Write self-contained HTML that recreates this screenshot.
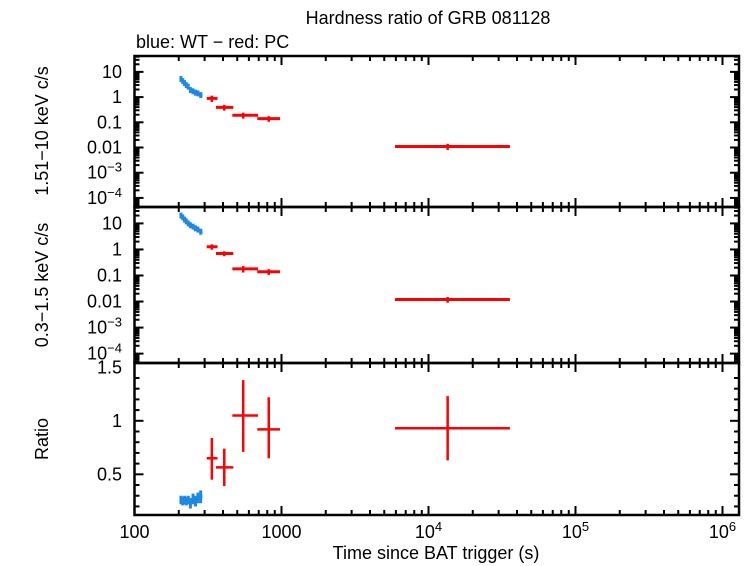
<!DOCTYPE html>
<html><head><meta charset="utf-8">
<style>
body{margin:0;background:#fff;}
svg{display:block;font-family:"Liberation Sans",sans-serif;}
</style></head>
<body>
<svg id="chart" width="753" height="566" viewBox="0 0 753 566" xmlns="http://www.w3.org/2000/svg">
<text x="428" y="24" font-size="18" text-anchor="middle">Hardness ratio of GRB 081128</text>
<text x="136" y="48" font-size="18">blue: WT − red: PC</text>
<text transform="translate(48,131) rotate(-90)" font-size="18" text-anchor="middle">1.51−10 keV c/s</text>
<text transform="translate(48,285) rotate(-90)" font-size="18" text-anchor="middle">0.3−1.5 keV c/s</text>
<text transform="translate(48,439) rotate(-90)" font-size="18" text-anchor="middle">Ratio</text>
<text x="436" y="559" font-size="18" text-anchor="middle">Time since BAT trigger (s)</text>
<g id="g"></g>
</svg>
<script>
// WT (blue) data
const wtTime=[207,213,219,225,232,240,250,260,270,282];
const wtTimeLo=[204,210,216,222,228,236,245,255,265,276];
const wtTimeHi=[210,216,222,228,236,245,255,265,276,290];
const wtHard=[5.2,4.3,3.6,3.0,2.6,1.9,1.7,1.5,1.4,1.2];
const wtSoft=[20,17,14,12,10,8.5,7.5,6.5,5.8,4.8];
const wtRatio=[0.26,0.25,0.26,0.25,0.26,0.23,0.27,0.25,0.28,0.29];
const wtRatioErr=[0.04,0.04,0.04,0.04,0.04,0.05,0.05,0.05,0.05,0.06];
// PC (red) data
const pcTime=[336,408,549,819,13500];
const pcTimeLo=[310,358,463,684,5920];
const pcTimeHi=[367,470,692,977,35800];
const pcHard=[0.89,0.39,0.19,0.14,0.011];
const pcHardErr=[0.25,0.1,0.05,0.035,0.003];
const pcSoft=[1.27,0.70,0.18,0.14,0.012];
const pcSoftErr=[0.3,0.15,0.05,0.035,0.003];
const pcRatio=[0.65,0.565,1.05,0.92,0.93];
const pcRatioLo=[0.45,0.39,0.71,0.65,0.63];
const pcRatioHi=[0.84,0.74,1.38,1.22,1.23];
const xTickLabels=["100","1000","10|4","10|5","10|6"];
const yLogTickLabels=["10","1","0.1","0.01","10|−3","10|−4"];
const ratioTicks=[0.5,1,1.5];

const NS="http://www.w3.org/2000/svg";
const g=document.getElementById('g');
const X0=134.5,X1=739,DEC=147;
function xs(t){return X0+(Math.log10(t)-2)*DEC;}
const panels=[{top:56,bot:207},{top:207,bot:363},{top:363,bot:515}];
const LOGTOP=1.63,LOGBOT=-4.36;
function ylog(p,v){const P=panels[p];return P.top+(LOGTOP-Math.log10(v))/(LOGTOP-LOGBOT)*(P.bot-P.top);}
const RTOP=1.54,RBOT=0.12;
function yr(v){const P=panels[2];return P.top+(RTOP-v)/(RTOP-RBOT)*(P.bot-P.top);}
function el(tag,attrs,parent){const e=document.createElementNS(NS,tag);for(const k in attrs)e.setAttribute(k,attrs[k]);(parent||g).appendChild(e);return e;}
function line(x1,y1,x2,y2,col,w,name){const e=el('line',{x1,y1,x2,y2,stroke:col,'stroke-width':w});


return e;}
function supText(x,y,lab,anchor,name){
  const parts=lab.split('|');
  const t=el('text',{x,y,'font-size':18,'text-anchor':anchor});
  
  
  t.appendChild(document.createTextNode(parts[0]));
  if(parts[1]){const s=el('tspan',{'font-size':13,dy:-7},t);s.textContent=parts[1];}
}
panels.forEach((P,i)=>{
  const r=el('rect',{x:X0,y:P.top,width:X1-X0,height:P.bot-P.top,fill:'none',stroke:'#000','stroke-width':2.5});
  
  
  for(let d=2;d<=6;d++){
    for(let m=1;m<10;m++){
      const t=Math.pow(10,d)*m;const x=xs(t);if(x>X1)break;
      const L=m===1?9:5;
      line(x,P.bot,x,P.bot-L,'#000',2,'x-tick');
      line(x,P.top,x,P.top+L,'#000',2,'x-tick');
    }
  }
  if(i<2){
    for(let d=-5;d<=2;d++){for(let m=1;m<10;m++){
      const v=Math.pow(10,d)*m;const lv=Math.log10(v);if(lv>LOGTOP||lv<LOGBOT)continue;
      const y=ylog(i,v);const L=m===1?9:5;
      line(X0,y,X0+L,y,'#000',2,'y-tick');line(X1,y,X1-L,y,'#000',2,'y-tick');
    }}
    yLogTickLabels.forEach((lab,k)=>{supText(122,ylog(i,Math.pow(10,1-k))+6,lab,'end','y-tick-label');});
  } else {
    for(let v=0.2;v<=1.5;v+=0.1){const y=yr(v);const major=Math.abs(v*2-Math.round(v*2))<1e-6;const L=major?9:5;
      line(X0,y,X0+L,y,'#000',2,'y-tick');line(X1,y,X1-L,y,'#000',2,'y-tick');}
    ratioTicks.forEach(v=>{supText(122,yr(v)+6,String(v),'end','ratio-tick-label');});
  }
});
xTickLabels.forEach((lab,k)=>{supText(xs(Math.pow(10,k+2)),538,lab,'middle','x-tick-label');});
const BLUE='#1e88e5',RED='#f00';
wtTime.forEach((t,i)=>{
  [[0,wtHard[i]],[1,wtSoft[i]]].forEach(([p,v])=>{
    const y=ylog(p,v);
    line(xs(wtTimeLo[i]),y,xs(wtTimeHi[i]),y,BLUE,4,'wt-point');
    line(xs(t),y-3,xs(t),y+3,BLUE,3,'wt-point-err');
  });
  const y=yr(wtRatio[i]);
  line(xs(wtTimeLo[i]),y,xs(wtTimeHi[i]),y,BLUE,3,'wt-ratio-point');
  line(xs(t),yr(wtRatio[i]-wtRatioErr[i]),xs(t),yr(wtRatio[i]+wtRatioErr[i]),BLUE,3,'wt-ratio-err');
});
pcTime.forEach((t,i)=>{
  [[0,pcHard[i],pcHardErr[i]],[1,pcSoft[i],pcSoftErr[i]]].forEach(([p,v,e])=>{
    const y=ylog(p,v);
    line(xs(pcTimeLo[i]),y,xs(pcTimeHi[i]),y,RED,3,'pc-point');
    line(xs(t),ylog(p,v+e),xs(t),ylog(p,Math.max(v-e,v*0.3)),RED,2.5,'pc-point-err');
  });
  line(xs(pcTimeLo[i]),yr(pcRatio[i]),xs(pcTimeHi[i]),yr(pcRatio[i]),RED,2.5,'pc-ratio-point');
  line(xs(t),yr(pcRatioLo[i]),xs(t),yr(pcRatioHi[i]),RED,2.5,'pc-ratio-err');
});
</script>
</body></html>
